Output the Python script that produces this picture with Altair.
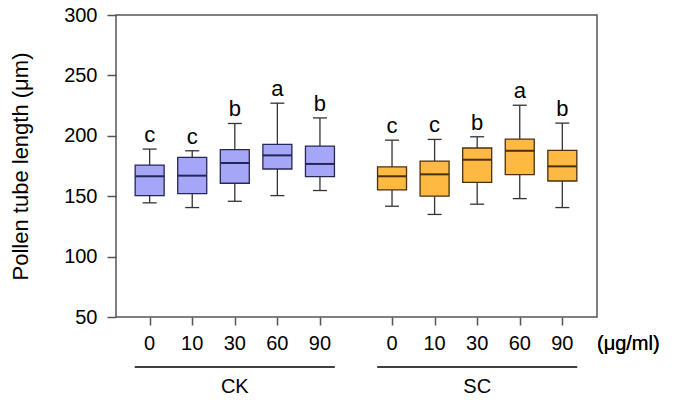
import altair as alt
import pandas as pd

doses = ["0", "10", "30", "60", "90"]
groups = ["CK", "SC"]

ck_low = [144.5, 140.6, 145.8, 150.5, 154.7]
ck_q1 = [150.5, 152.2, 160.7, 172.5, 166.2]
ck_med = [166.5, 167.0, 177.5, 183.8, 176.7]
ck_q3 = [175.8, 182.1, 188.5, 192.9, 191.5]
ck_high = [189.0, 187.6, 210.2, 227.0, 214.8]
ck_letters = ["c", "c", "b", "a", "b"]

sc_low = [141.7, 134.9, 143.4, 148.0, 140.6]
sc_q1 = [155.2, 150.0, 161.5, 167.8, 162.6]
sc_med = [166.5, 168.1, 180.2, 187.6, 174.7]
sc_q3 = [174.2, 179.1, 189.9, 197.2, 187.9]
sc_high = [196.4, 197.0, 199.2, 225.3, 210.5]
sc_letters = ["c", "c", "b", "a", "b"]

y_ticks = [50, 100, 150, 200, 250, 300]

# layout of slots along x (layout only)
group_offset = {"CK": 0.0, "SC": 5.693}

rows = []
for g, low, q1, med, q3, high, let in [
    ("CK", ck_low, ck_q1, ck_med, ck_q3, ck_high, ck_letters),
    ("SC", sc_low, sc_q1, sc_med, sc_q3, sc_high, sc_letters),
]:
    for i, d in enumerate(doses):
        rows.append(dict(group=g, dose=d, pos=1 + i + group_offset[g],
                         low=low[i], q1=q1[i], med=med[i], q3=q3[i],
                         high=high[i], letter=let[i]))
df = pd.DataFrame(rows)

gdf = pd.DataFrame([
    dict(group=g, center=3 + group_offset[g],
         start=3 + group_offset[g] - 2.35, end=3 + group_offset[g] + 2.35)
    for g in groups
])

FONT = "Liberation Sans"
fill_scale = alt.Scale(domain=groups, range=["#a6a6f6", "#fdb941"])
stroke_scale = alt.Scale(domain=groups, range=["#26265a", "#4a3010"])

xs = alt.Scale(domain=[0.327, 11.39], nice=False, zero=False)
ys = alt.Scale(domain=[50, 300], nice=False, zero=False)

X = alt.X("pos:Q", scale=xs,
          axis=alt.Axis(values=df["pos"].tolist(), labels=False, title=None,
                        grid=False, domain=False, tickSize=8))
Y = alt.Y("q1:Q", scale=ys,
          axis=alt.Axis(values=y_ticks, title="Pollen tube length (μm)",
                        grid=False, domain=False, tickSize=9, labelPadding=10,
                        labelFontSize=20, titleFontSize=22, titlePadding=31))

base = alt.Chart(df)

whisk_lo = base.mark_rule(color="#333333", strokeWidth=1.3).encode(
    x=X, y=alt.Y("low:Q", scale=ys), y2="q1:Q")
whisk_hi = base.mark_rule(color="#333333", strokeWidth=1.3).encode(
    x=X, y=alt.Y("q3:Q", scale=ys), y2="high:Q")
cap_lo = base.mark_rule(color="#333333", strokeWidth=1.3, xOffset=-7, x2Offset=7).encode(
    x=X, x2="pos:Q", y=alt.Y("low:Q", scale=ys))
cap_hi = base.mark_rule(color="#333333", strokeWidth=1.3, xOffset=-7, x2Offset=7).encode(
    x=X, x2="pos:Q", y=alt.Y("high:Q", scale=ys))
boxes = base.mark_bar(size=29, strokeWidth=1.3).encode(
    x=X, y=Y, y2="q3:Q",
    fill=alt.Fill("group:N", scale=fill_scale, legend=None),
    stroke=alt.Stroke("group:N", scale=stroke_scale, legend=None))
medians = base.mark_rule(strokeWidth=2, xOffset=-14.5, x2Offset=14.5).encode(
    x=X, x2="pos:Q", y=alt.Y("med:Q", scale=ys),
    stroke=alt.Stroke("group:N", scale=stroke_scale, legend=None))
letters = base.mark_text(font=FONT, fontSize=22, baseline="alphabetic", dy=-7,
                         color="black").encode(
    x=X, y=alt.Y("high:Q", scale=ys), text="letter:N")
dose_labels = base.mark_text(font=FONT, fontSize=20, baseline="middle",
                             color="black").encode(
    x=X, y=alt.value(329), text="dose:N")

gbase = alt.Chart(gdf)
glines = gbase.mark_rule(color="black", strokeWidth=1.6).encode(
    x=alt.X("start:Q", scale=xs), x2="end:Q", y=alt.value(352))
gtext = gbase.mark_text(font=FONT, fontSize=20, baseline="middle",
                        color="black").encode(
    x=alt.X("center:Q", scale=xs), y=alt.value(372), text="group:N")
unit = gbase.mark_text(font=FONT, fontSize=20, baseline="middle", align="left",
                       fontWeight="normal", color="black").encode(
    x=alt.value(481), y=alt.value(329), text=alt.value("(μg/ml)"))

chart = alt.layer(
    whisk_lo, whisk_hi, cap_lo, cap_hi, boxes, medians, letters,
    dose_labels, glines, gtext, unit
).properties(
    width=481, height=302,
    padding={"left": 116, "top": 15, "right": 81, "bottom": 83},
    autosize=alt.AutoSizeParams(type="none"),
    background="white",
).configure_view(
    stroke="#555555", strokeWidth=1.5
).configure_axis(
    labelFont=FONT, titleFont=FONT, labelColor="black", titleColor="black",
    titleFontWeight="normal", tickColor="#555555", tickWidth=1.5,
)

chart.save("out.html", embed_options={"renderer": "svg", "actions": False})
